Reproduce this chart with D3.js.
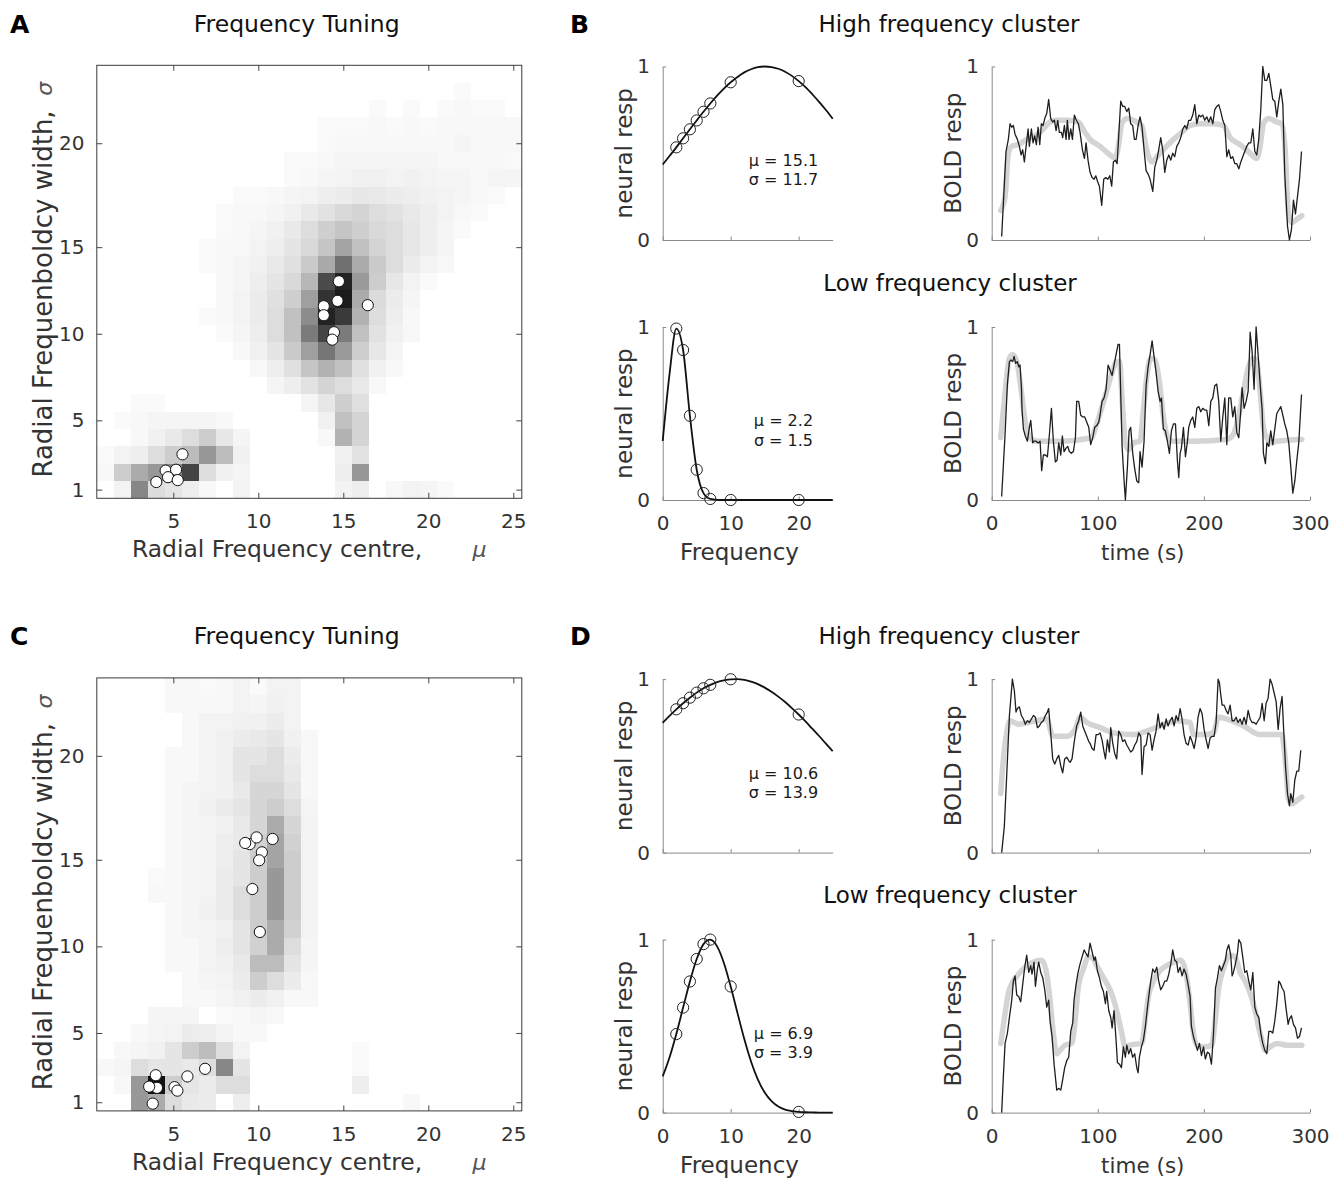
<!DOCTYPE html>
<html>
<head>
<meta charset="utf-8">
<script src="https://cdn.jsdelivr.net/npm/d3@7"></script>
<style>
  body { margin: 0; background: #fff; }
  svg { display: block; font-family: "DejaVu Sans", sans-serif; }
</style>
</head>
<body>
<svg id="fig" width="1341" height="1181"></svg>
<script>
//------------------------------------------------------------------------------
// Data
//------------------------------------------------------------------------------

// heat map axes (x in mu units, y in sigma-grid rows)
var heatXTicks = [5, 10, 15, 20, 25];
var heatYTickRows = [1, 5, 10, 15, 21];
var heatYTickLabels = ["1", "5", "10", "15", "20"];

// voxel density, rows listed from top (row 25) to bottom (row 1), columns mu = 1..25
var gridA = [
  [0,0,0,0,0,0,0,0,0,0,0,0,0,0,0,0,0,0,0,0,0,0,0,0,0],
  [0,0,0,0,0,0,0,0,0,0,0,0,0,0,0,0,0,0,0,0,0,2,0,0,0],
  [0,0,0,0,0,0,0,0,0,0,0,0,0,0,0,0,2,0,2,0,2,3,2,2,0],
  [0,0,0,0,0,0,0,0,0,0,0,0,0,2,2,2,3,2,3,2,3,3,3,3,3],
  [0,0,0,0,0,0,0,0,0,0,0,0,0,2,3,3,3,3,3,3,3,4,3,3,3],
  [0,0,0,0,0,0,0,0,0,0,0,2,2,3,4,4,4,4,4,4,3,3,3,3,2],
  [0,0,0,0,0,0,0,0,0,0,0,2,3,4,5,6,6,5,6,5,4,4,3,4,4],
  [0,0,0,0,0,0,0,0,2,2,3,4,5,7,8,10,9,8,7,6,5,4,3,2,0],
  [0,0,0,0,0,0,0,2,3,3,4,6,9,12,16,18,14,12,9,7,5,3,2,0,0],
  [0,0,0,0,0,0,0,2,3,4,6,9,14,20,24,20,16,14,10,7,4,2,0,0,0],
  [0,0,0,0,0,0,2,3,3,5,7,11,16,24,38,26,18,14,10,7,4,0,0,0,0],
  [0,0,0,0,0,0,2,3,4,6,9,13,22,36,60,35,22,14,8,5,3,0,0,0,0],
  [0,0,0,0,0,0,0,3,4,7,11,16,30,75,92,42,21,10,5,2,0,0,0,0,0],
  [0,0,0,0,0,0,0,3,5,8,13,20,40,85,95,35,15,8,4,0,0,0,0,0,0],
  [0,0,0,0,0,0,2,3,5,8,14,26,48,92,82,32,14,7,3,0,0,0,0,0,0],
  [0,0,0,0,0,0,0,2,4,7,14,26,55,78,55,26,12,6,3,0,0,0,0,0,0],
  [0,0,0,0,0,0,0,0,3,6,11,22,40,57,42,20,10,4,0,0,0,0,0,0,0],
  [0,0,0,0,0,0,0,0,0,3,7,13,24,32,26,13,6,3,0,0,0,0,0,0,0],
  [0,0,0,0,0,0,0,0,0,0,4,7,12,18,14,9,3,0,0,0,0,0,0,0,0],
  [0,0,2,2,0,0,0,0,0,0,0,0,4,10,20,13,0,0,0,0,0,0,0,0,0],
  [0,2,3,4,4,4,4,3,0,0,0,0,0,6,26,18,0,0,0,0,0,0,0,0,0],
  [0,0,3,6,9,14,21,10,4,0,0,0,0,3,32,18,0,0,0,0,0,0,0,0,0],
  [2,5,7,14,21,28,43,28,6,0,0,0,0,0,6,12,0,0,0,0,0,0,0,0,0],
  [3,21,35,43,50,78,14,6,4,0,0,0,0,0,7,43,0,0,0,0,0,0,0,0,0],
  [0,5,50,14,11,7,3,0,5,0,0,0,0,0,5,7,0,3,5,4,2,0,0,0,0]
];

var gridC = [
  [0,0,0,0,3,3,2,3,5,2,5,5,0,0,0,0,0,0,0,0,0,0,0,0,0],
  [0,0,0,0,3,3,3,3,5,4,6,5,0,0,0,0,0,0,0,0,0,0,0,0,0],
  [0,0,0,0,0,3,5,5,6,6,8,5,0,0,0,0,0,0,0,0,0,0,0,0,0],
  [0,0,0,0,0,3,5,6,8,9,11,6,3,0,0,0,0,0,0,0,0,0,0,0,0],
  [0,0,0,0,3,3,5,6,11,11,14,8,3,0,0,0,0,0,0,0,0,0,0,0,0],
  [0,0,0,0,3,3,5,6,11,14,14,9,3,0,0,0,0,0,0,0,0,0,0,0,0],
  [0,0,0,0,3,4,5,6,9,17,17,11,3,0,0,0,0,0,0,0,0,0,0,0,0],
  [0,0,0,0,3,4,6,8,11,17,21,14,4,0,0,0,0,0,0,0,0,0,0,0,0],
  [0,0,0,0,3,4,5,6,9,17,35,17,5,0,0,0,0,0,0,0,0,0,0,0,0],
  [0,0,0,0,3,4,5,7,9,19,38,19,5,0,0,0,0,0,0,0,0,0,0,0,0],
  [0,0,0,0,3,4,5,7,11,21,38,21,5,0,0,0,0,0,0,0,0,0,0,0,0],
  [0,0,0,2,3,4,5,8,11,21,43,21,5,0,0,0,0,0,0,0,0,0,0,0,0],
  [0,0,0,3,3,4,5,8,14,21,43,21,5,0,0,0,0,0,0,0,0,0,0,0,0],
  [0,0,0,0,3,4,6,8,14,21,43,21,5,0,0,0,0,0,0,0,0,0,0,0,0],
  [0,0,0,0,3,4,5,6,11,21,35,19,5,0,0,0,0,0,0,0,0,0,0,0,0],
  [0,0,0,0,3,3,5,7,11,19,35,14,4,0,0,0,0,0,0,0,0,0,0,0,0],
  [0,0,0,0,3,3,5,6,9,28,28,11,4,0,0,0,0,0,0,0,0,0,0,0,0],
  [0,0,0,0,0,3,4,5,8,21,14,8,3,0,0,0,0,0,0,0,0,0,0,0,0],
  [0,0,0,0,0,3,3,4,6,8,6,3,3,0,0,0,0,0,0,0,0,0,0,0,0],
  [0,0,0,4,4,4,0,2,3,4,3,0,0,0,0,0,0,0,0,0,0,0,0,0,0],
  [0,0,3,4,5,8,7,5,3,3,0,0,0,0,0,0,0,0,0,0,0,0,0,0,0],
  [0,3,4,6,11,21,28,14,5,0,0,0,0,0,0,2,0,0,0,0,0,0,0,0,0],
  [3,4,14,11,11,9,14,50,11,0,0,0,0,0,0,2,0,0,0,0,0,0,0,0,0],
  [0,3,43,99,21,11,8,14,14,0,0,0,0,0,0,7,0,0,0,0,0,0,0,0,0],
  [0,0,43,35,14,9,8,0,7,0,0,0,0,0,0,0,0,0,3,0,0,0,0,0,0]
];

// selected voxels [mu, sigma-row]
var voxelsA = [
  [14.74,13.03],[14.66,11.9],[13.85,11.59],[13.85,11.07],[16.44,11.65],[14.45,10.09],[14.35,9.66],
  [5.54,3.04],[4.55,2.1],[5.16,2.15],[4.0,1.44],[4.69,1.72],[5.26,1.55]
];
var voxelsC = [
  [9.49,15.9],[9.23,15.97],[9.9,16.29],[10.84,16.2],[10.21,15.43],[10.05,14.97],[9.65,13.31],[10.09,10.83],
  [6.87,2.93],[5.83,2.49],[3.97,2.56],[4.04,1.83],[3.58,1.9],[5.07,1.87],[5.24,1.67],[3.79,0.92]
];

// tuning curves
var freqTicks = [0, 10, 20];
var stimFreq = [2, 3, 4, 5, 6, 7, 10, 20];
var respB_high = [0.534, 0.586, 0.638, 0.689, 0.739, 0.787, 0.909, 0.916];
var respB_low = [0.991, 0.867, 0.487, 0.175, 0.040, 0.006, 0, 0];
var respD_high = [0.826, 0.861, 0.893, 0.922, 0.947, 0.967, 0.999, 0.796];
var respD_low = [0.454, 0.607, 0.758, 0.888, 0.974, 1.0, 0.729, 0.004];

var curveFreq = [0,1,2,3,4,5,6,7,8,9,10,11,12,13,14,15,16,17,18,19,20,21,22,23,24,25];
var curveB_high = [0.435,0.484,0.534,0.586,0.638,0.689,0.739,0.787,0.832,0.873,0.909,0.940,0.966,0.984,0.996,1.000,0.997,0.987,0.970,0.946,0.916,0.881,0.840,0.796,0.749,0.699];
var curveB_low = [0.341,0.726,0.991,0.867,0.487,0.175,0.040,0.006,0.001,0,0,0,0,0,0,0,0,0,0,0,0,0,0,0,0,0];
var curveD_high = [0.748,0.788,0.826,0.861,0.893,0.922,0.947,0.967,0.983,0.993,0.999,1.000,0.995,0.985,0.971,0.951,0.927,0.899,0.868,0.833,0.796,0.756,0.714,0.672,0.628,0.585];
var curveD_low = [0.209,0.318,0.454,0.607,0.758,0.888,0.974,1.000,0.961,0.865,0.729,0.575,0.425,0.294,0.191,0.116,0.066,0.035,0.017,0.008,0.004,0.002,0.001,0,0,0];

var fitMu = ["15.1", "2.2", "10.6", "6.9"];
var fitSigma = ["11.7", "1.5", "13.9", "3.9"];

// BOLD time courses [time (s), normalised response]
var timeTicks = [0, 100, 200, 300];

var boldB_high = [[9.4,.02],[13.5,.51],[15.7,.58],[17.3,.67],[18.9,.65],[20.4,.66],[22,.61],[24.2,.58],[26.1,.54],[27.7,.49],[29.2,.52],[30.8,.45],[33,.57],[34.3,.64],[35.5,.54],[37.4,.64],[39,.56],[40.5,.6],[42.1,.55],[43.7,.65],[45.3,.55],[46.8,.67],[48.4,.66],[50,.7],[51.9,.73],[53.7,.81],[55.6,.7],[57.5,.68],[59.1,.69],[60.7,.63],[62.2,.69],[63.8,.62],[65.7,.62],[66.9,.59],[68.5,.66],[70.1,.58],[71.3,.69],[72.9,.58],[74.5,.64],[76.1,.58],[77.9,.72],[79.8,.69],[81.7,.67],[83.3,.62],[85.5,.52],[87.4,.47],[88.9,.56],[90.8,.46],[92.7,.39],[94.6,.36],[96.5,.35],[98.1,.37],[99.6,.34],[101.5,.31],[103.7,.2],[105.6,.35],[107.5,.36],[109.4,.35],[111.3,.37],[113.1,.31],[114.7,.45],[116.6,.46],[118.2,.44],[121.6,.8],[123.5,.77],[125.4,.77],[127.3,.74],[129.2,.76],[131,.67],[132.9,.66],[134.5,.58],[136.1,.58],[138,.66],[139.8,.71],[141.7,.65],[143.6,.52],[145.5,.4],[147.4,.38],[149.3,.35],[151.8,.28],[153.7,.42],[155.6,.46],[157.4,.52],[159.3,.59],[161.2,.52],[163.1,.39],[165,.46],[166.9,.49],[168.8,.46],[170.6,.5],[172.5,.48],[174.4,.54],[176.3,.56],[178.2,.59],[180.1,.64],[182,.66],[183.8,.64],[185.7,.69],[187.6,.69],[189.5,.72],[191.4,.78],[193.3,.67],[195.2,.72],[197,.71],[198.9,.72],[200.8,.69],[202.7,.71],[204.6,.68],[206.5,.71],[208.4,.67],[210.2,.75],[212.1,.77],[214,.78],[215.9,.74],[217.8,.69],[219.7,.66],[221.6,.48],[223.4,.52],[225.3,.47],[227.2,.48],[229.1,.44],[231,.44],[232.9,.41],[234.8,.45],[236.6,.48],[238.5,.51],[240.4,.54],[242.3,.56],[244.2,.56],[246.1,.64],[248,.51],[249.8,.49],[251.7,.58],[253.6,.75],[255.5,1],[257.4,.92],[259.3,.92],[261.2,.96],[263,.89],[264.9,.81],[266.8,.8],[268.7,.71],[270.6,.8],[272.5,.87],[274.4,.78],[276.2,.38],[278.8,.08],[280.6,0],[282.5,.06],[284.4,.23],[286.3,.15],[288.2,.25],[290.1,.35],[292,.51]];
var modelB_high = [[8.5,.17],[12.6,.25],[15.7,.5],[18.9,.54],[25.1,.55],[33,.58],[40.9,.6],[48.7,.64],[55,.68],[61.3,.69],[70.7,.69],[81.7,.68],[88,.62],[92.7,.58],[102.1,.54],[111.6,.49],[116.3,.47],[119.4,.54],[122.6,.67],[127.3,.7],[136.7,.68],[141.4,.66],[146.1,.52],[150.8,.45],[155.6,.48],[161.8,.52],[171.3,.58],[179.1,.62],[187,.66],[196.4,.67],[209,.67],[218.4,.66],[224.7,.59],[234.1,.55],[243.6,.5],[249.8,.47],[253,.54],[256.1,.67],[260.8,.7],[268.7,.68],[273.4,.67],[276.6,.52],[279.7,.15],[282.8,.1],[287.6,.12],[292.3,.14]];

var boldB_low = [[9.4,.02],[12.6,.38],[14.8,.67],[16.7,.8],[18.2,.81],[19.8,.8],[21.1,.83],[22.6,.79],[24.2,.8],[25.5,.77],[26.7,.78],[28,.65],[28.6,.52],[29.9,.41],[31.7,.37],[33.6,.34],[35.5,.42],[36.8,.46],[38.7,.33],[39.9,.34],[41.8,.34],[43.7,.33],[45.6,.34],[47.1,.17],[48.7,.26],[50.6,.26],[52.5,.25],[54.4,.38],[56.3,.53],[58.1,.34],[60,.22],[61.6,.23],[63.2,.33],[65.1,.26],[66.6,.37],[68.2,.28],[70.1,.3],[71.7,.31],[73.2,.28],[75.1,.27],[77,.28],[78.9,.36],[80.1,.57],[82,.57],[83.9,.49],[85.8,.48],[87.7,.48],[89.6,.45],[91.5,.42],[93.3,.32],[95.2,.36],[97.1,.42],[99,.43],[100.9,.45],[102.1,.49],[104,.57],[105.9,.59],[107.8,.64],[109.7,.78],[111.6,.75],[113.5,.72],[115.3,.78],[117.2,.84],[119.1,.9],[120.4,.9],[122.9,.31],[124.8,.11],[126,0],[127.9,.19],[129.5,.4],[131,.42],[132.9,.27],[134.8,.18],[136.7,.11],[138.6,.1],[139.8,.28],[141.7,.19],[143.6,.34],[145.5,.66],[147.4,.77],[149.3,.84],[151.2,.92],[153,.83],[154.9,.74],[156.8,.63],[158.7,.57],[160,.59],[161.8,.41],[163.7,.4],[165.6,.34],[167.5,.27],[169.4,.4],[171.3,.44],[173.2,.44],[175,.23],[176.3,.13],[177.6,.27],[178.8,.3],[180.7,.42],[182.6,.25],[184.5,.34],[185.7,.42],[187.6,.46],[189.5,.48],[191.4,.42],[193.3,.53],[195.2,.54],[197,.51],[198.9,.53],[200.8,.52],[202.7,.52],[204.6,.43],[206.5,.57],[208.4,.59],[210.2,.66],[212.1,.67],[214,.57],[215.9,.34],[217.8,.48],[219.7,.59],[221.6,.32],[223.4,.59],[225.3,.59],[227.2,.48],[229.1,.54],[231,.39],[232.9,.36],[234.8,.52],[236,.65],[237.9,.53],[239.8,.57],[241.7,.63],[243.6,.97],[245.4,.86],[247.3,.64],[249.2,1],[251.1,.84],[253,.67],[254.9,.52],[256.1,.27],[258,.21],[259.3,.33],[261.2,.31],[263,.4],[264.9,.32],[266.8,.41],[268.7,.5],[270.6,.52],[272.5,.54],[274.4,.49],[276.2,.44],[278.1,.4],[280,.33],[281.9,.19],[283.8,.04],[285.7,.11],[287.6,.23],[289.4,.33],[292,.61]];
var modelB_low = [[8.5,.36],[11,.52],[14.1,.71],[16.7,.82],[19.8,.84],[23.6,.8],[28.3,.61],[31.4,.46],[36.1,.36],[42.4,.34],[64.4,.34],[94.3,.36],[97.4,.41],[102.1,.5],[108.4,.63],[113.1,.73],[117.8,.8],[120.4,.8],[123.5,.52],[126,.33],[128.9,.29],[133.6,.33],[139.8,.34],[143,.52],[146.1,.71],[149.9,.82],[154,.81],[158.7,.65],[161.8,.48],[165,.38],[169.7,.34],[190.1,.34],[221.6,.35],[227.8,.38],[232.6,.48],[237.3,.63],[242,.77],[246.7,.82],[249.8,.8],[253,.63],[256.1,.42],[259.3,.36],[264,.33],[268.7,.34],[292.3,.35]];

var boldD_high = [[9.4,0],[11.9,.15],[14.1,.44],[16.7,.79],[19.5,1],[21.4,.93],[22.9,.81],[24.2,.83],[26.1,.84],[28,.79],[29.9,.77],[31.7,.74],[33.6,.76],[35.5,.75],[37.4,.77],[39.3,.79],[41.2,.78],[43.1,.72],[44.9,.73],[46.8,.75],[48.7,.76],[50.6,.79],[52.5,.81],[53.7,.83],[55.6,.69],[57.5,.54],[59.4,.51],[61.3,.54],[63.2,.56],[65.1,.5],[66.9,.46],[68.8,.54],[70.7,.55],[72.6,.53],[73.9,.52],[75.7,.54],[77.6,.63],[80.1,.73],[82,.76],[83.9,.81],[85.8,.73],[87.7,.7],[89.6,.67],[91.5,.64],[92.7,.63],[94.6,.6],[96.5,.59],[98.4,.68],[100.3,.68],[102.1,.69],[104,.65],[105.9,.58],[107.2,.54],[109.1,.65],[110.9,.58],[112.2,.72],[114.1,.63],[116,.57],[117.8,.54],[119.7,.7],[121.6,.68],[123.5,.64],[125.4,.65],[127.3,.62],[129.2,.6],[131,.58],[132.9,.59],[134.8,.62],[136.7,.64],[138.6,.69],[140.5,.67],[141.7,.45],[143.6,.61],[145.5,.62],[147.4,.69],[149.3,.68],[151.2,.59],[153,.65],[154.9,.7],[156.8,.8],[158.7,.72],[160.6,.75],[162.5,.71],[164.4,.77],[166.2,.73],[168.1,.76],[170,.78],[171.9,.73],[173.8,.79],[175.7,.76],[177.6,.83],[179.4,.77],[181.3,.68],[183.2,.63],[185.1,.62],[187,.67],[188.9,.64],[190.8,.6],[192.6,.66],[194.5,.78],[196.4,.83],[198.3,.8],[200.2,.71],[202.1,.65],[204,.6],[205.8,.66],[207.7,.67],[209.6,.67],[211.5,.75],[213.4,1],[214.6,.98],[215.9,.91],[217.2,.85],[219,.85],[220.9,.82],[222.8,.8],[224.7,.85],[226.6,.76],[228.5,.76],[230.4,.78],[232.2,.75],[234.1,.77],[236,.74],[237.9,.78],[239.8,.74],[241.7,.82],[243.6,.77],[245.4,.75],[247.3,.75],[249.2,.74],[251.1,.76],[253,.78],[254.9,.86],[256.8,.76],[258.6,.86],[260.5,.89],[262.4,1],[264.3,.97],[266.2,.92],[268.1,.87],[270,.71],[271.8,.83],[273.7,.9],[275,.73],[276.9,.5],[278.8,.34],[280.6,.27],[281.9,.34],[283.8,.29],[285.7,.42],[287.6,.47],[289.4,.47],[291.3,.59]];
var modelD_high = [[8.5,.34],[11,.54],[14.1,.69],[17.3,.76],[25.1,.74],[42.4,.76],[51.9,.77],[54.4,.73],[56.6,.68],[59.7,.67],[70.7,.67],[78.6,.71],[83.3,.78],[89.6,.75],[102.1,.72],[114.7,.69],[133.6,.68],[146.1,.7],[158.7,.73],[174.4,.76],[187,.75],[190.1,.68],[199.6,.68],[209,.69],[213.7,.78],[221.6,.77],[237.3,.73],[253,.68],[273.4,.68],[276.6,.54],[279.7,.31],[282.8,.28],[287.6,.3],[292.3,.32]];

var boldD_low = [[9.4,0],[11,.21],[12.6,.4],[14.8,.46],[16.7,.55],[18.9,.65],[20.4,.76],[22,.79],[23.6,.68],[25.5,.67],[27.3,.64],[29.2,.74],[31.1,.84],[33,.91],[34.9,.81],[36.8,.85],[38,.8],[39.9,.87],[41.2,.73],[43.1,.83],[44.3,.87],[46.2,.81],[48.1,.78],[50,.71],[51.9,.61],[53.7,.65],[55,.53],[56.9,.44],[58.8,.28],[61.3,.13],[63.2,.14],[65.1,.13],[66.9,.19],[68.8,.26],[70.7,.3],[72.6,.32],[74.5,.47],[76.4,.52],[77.6,.65],[79.5,.74],[81.4,.81],[83.3,.86],[85.2,.9],[87.1,.94],[88.9,.92],[90.8,.9],[92.7,.98],[94.6,.93],[96.5,.88],[97.7,.9],[99.6,.82],[101.5,.78],[103.4,.73],[105.3,.7],[107.2,.63],[108.4,.7],[110.3,.59],[112.2,.55],[113.5,.49],[115.3,.59],[117.2,.42],[118.5,.29],[120.4,.28],[122.3,.26],[124.1,.38],[126,.32],[127.3,.39],[129.2,.34],[131,.37],[132.9,.32],[134.8,.34],[136.7,.26],[138,.23],[139.2,.32],[141.1,.38],[143,.42],[144.9,.5],[146.1,.57],[148,.67],[149.9,.76],[151.8,.83],[153.7,.81],[155.6,.84],[157.4,.76],[159.3,.71],[161.2,.73],[163.1,.76],[165,.76],[166.9,.8],[168.8,.86],[170.6,.94],[172.5,.88],[174.4,.87],[175.7,.81],[177.6,.84],[179.4,.79],[181.3,.83],[183.2,.8],[185.1,.74],[187,.67],[188.2,.5],[190.1,.44],[192,.4],[193.9,.36],[195.8,.4],[197.7,.33],[199.6,.38],[201.4,.31],[203.3,.35],[205.2,.34],[207.1,.28],[209,.45],[210.9,.72],[212.8,.78],[214.6,.85],[216.5,.82],[218.4,.85],[220.3,.88],[221.6,.94],[223.4,.97],[225.3,.91],[226.6,.79],[227.8,.81],[229.7,.86],[231.6,.92],[232.9,1],[234.8,.98],[236.6,.9],[238.5,.81],[240.4,.82],[242.3,.76],[244.2,.71],[246.1,.81],[248,.61],[249.8,.57],[251.7,.55],[253.6,.46],[255.5,.4],[257.4,.36],[259.3,.34],[261.2,.47],[263,.47],[264.9,.46],[266.8,.53],[268.7,.63],[270.6,.76],[271.8,.75],[273.7,.72],[275.6,.7],[277.5,.6],[279.4,.51],[280.6,.54],[282.5,.56],[284.4,.51],[286.3,.49],[288.2,.43],[290.1,.44],[292,.49]];
var modelD_low = [[8.5,.4],[11.6,.53],[15.7,.69],[20.4,.76],[26.7,.81],[33,.85],[39.3,.87],[47.1,.88],[51.9,.8],[55,.65],[58.1,.46],[61.3,.34],[64.4,.36],[69.1,.39],[75.4,.4],[78.6,.53],[81.7,.73],[86.4,.83],[91.1,.9],[94.3,.9],[99,.85],[105.3,.78],[111.6,.71],[117.8,.59],[122.6,.46],[125.7,.38],[130.4,.39],[141.4,.4],[144.6,.53],[147.7,.67],[152.4,.76],[158.7,.82],[165,.85],[171.3,.87],[177.6,.88],[180.7,.86],[183.8,.78],[187,.63],[190.1,.46],[193.3,.39],[199.6,.38],[207.4,.39],[210.6,.53],[213.7,.71],[218.4,.83],[224.7,.91],[229.4,.9],[234.1,.81],[238.8,.76],[243.6,.69],[248.3,.59],[251.4,.5],[254.6,.42],[257.7,.36],[262.4,.38],[268.7,.4],[278.1,.39],[292.3,.39]];


//------------------------------------------------------------------------------
// Layout
//------------------------------------------------------------------------------

var svg = d3.select("#fig");
var FONT = '"DejaVu Sans", sans-serif';
var LOWER = 612.6;           // vertical offset of the C / D row

var heatColor = d3.scaleLinear().domain([0, 100]).range(["#ffffff", "#0f0f0f"]).clamp(true);

function addText(g, x, y, str, opts) {
  opts = opts || {};
  var t = g.append("text")
    .attr("x", x).attr("y", y)
    .attr("font-family", FONT)
    .attr("font-size", opts.size || 23)
    .attr("fill", opts.fill || "#262626")
    .attr("text-anchor", opts.anchor || "middle")
    .text(str);
  if (opts.bold) t.attr("font-weight", "bold");
  if (opts.italic) t.attr("font-style", "italic");
  if (opts.rotate) t.attr("transform", "rotate(-90," + x + "," + y + ")");
  return t;
}

function styleTicks(sel, color) {
  sel.selectAll(".tick line").attr("stroke", color);
  sel.selectAll(".tick text")
    .attr("font-family", FONT)
    .attr("font-size", 20)
    .attr("fill", "#333");
}

//--------------------------------------
// Heat map panels (A, C)
//--------------------------------------

function heatPanel(grid, voxels, dy, letter) {
  var g = svg.append("g");
  var top = 65.3 + dy, bottom = 498.3 + dy;
  var x = d3.scaleLinear().domain([0.5, 25.5]).range([96.8, 521.8]);
  var y = d3.scaleLinear().domain([0.5, 25.5]).range([bottom, top]);

  var cells = [];
  grid.forEach(function(row, i) {
    row.forEach(function(v, j) {
      if (v > 0) cells.push({row: 25 - i, col: j + 1, v: v});
    });
  });

  g.append("g").selectAll("rect").data(cells).join("rect")
    .attr("x", function(d) { return x(d.col - 0.5); })
    .attr("y", function(d) { return y(d.row + 0.5); })
    .attr("width", x(1.5) - x(0.5))
    .attr("height", y(0.5) - y(1.5))
    .attr("fill", function(d) { return heatColor(d.v); })
    .attr("shape-rendering", "crispEdges");

  g.append("g").selectAll("circle").data(voxels).join("circle")
    .attr("cx", function(d) { return x(d[0]); })
    .attr("cy", function(d) { return y(d[1]); })
    .attr("r", 5.6)
    .attr("fill", "#fff")
    .attr("stroke", "#111")
    .attr("stroke-width", 1);

  var axB = g.append("g").attr("transform", "translate(0," + bottom + ")")
    .call(d3.axisBottom(x).tickValues(heatXTicks).tickSizeInner(-5.5).tickSizeOuter(0).tickPadding(15.8));
  var axT = g.append("g").attr("transform", "translate(0," + top + ")")
    .call(d3.axisTop(x).tickValues(heatXTicks).tickSizeInner(-5.5).tickSizeOuter(0).tickFormat(""));
  var axL = g.append("g").attr("transform", "translate(96.8,0)")
    .call(d3.axisLeft(y).tickValues(heatYTickRows).tickSizeInner(-5.5).tickSizeOuter(0).tickPadding(12.4)
      .tickFormat(function(d, i) { return heatYTickLabels[i]; }));
  var axR = g.append("g").attr("transform", "translate(521.8,0)")
    .call(d3.axisRight(y).tickValues(heatYTickRows).tickSizeInner(-5.5).tickSizeOuter(0).tickFormat(""));
  [axB, axT, axL, axR].forEach(function(a) { a.select(".domain").remove(); styleTicks(a, "#444"); });

  g.append("rect")
    .attr("x", 96.8).attr("y", top)
    .attr("width", 521.8 - 96.8).attr("height", bottom - top)
    .attr("fill", "none").attr("stroke", "#3a3a3a").attr("stroke-width", 1);

  addText(g, 10, 32.5 + dy, letter, {size: 25, bold: true, anchor: "start", fill: "#000"});
  addText(g, 296.7, 31.5 + dy, "Frequency Tuning", {size: 23.5, fill: "#111"});
  addText(g, 132, 557 + dy, "Radial Frequency centre,", {size: 23.4, anchor: "start", fill: "#333"});
  addText(g, 479.5, 557 + dy, "\u03bc", {size: 22, italic: true, fill: "#555"});
  addText(g, 51.7, 294 + dy, "Radial Frequenboldcy width,", {size: 26, rotate: true, fill: "#333"});
  addText(g, 51.7, 88.8 + dy, "\u03c3", {size: 22, rotate: true, italic: true, fill: "#555"});
}

//--------------------------------------
// Neural tuning plots
//--------------------------------------

function tuningPlot(top, bottom, curve, resp, mu, sigma, showX) {
  var g = svg.append("g");
  var x = d3.scaleLinear().domain([0, 25]).range([662.7, 832.7]);
  var y = d3.scaleLinear().domain([0, 1]).range([bottom, top]);

  var axX = g.append("g").attr("transform", "translate(0," + bottom + ")")
    .call(d3.axisBottom(x).tickValues(freqTicks).tickSizeInner(-3.5).tickSizeOuter(0).tickPadding(15.8)
      .tickFormat(showX ? d3.format("d") : ""));
  var axY = g.append("g").attr("transform", "translate(662.7,0)")
    .call(d3.axisLeft(y).tickValues([0, 1]).tickSizeInner(-3.5).tickSizeOuter(0).tickPadding(12.7)
      .tickFormat(d3.format("d")));
  [axX, axY].forEach(function(a) {
    a.select(".domain").attr("stroke", "#8a8a8a");
    styleTicks(a, "#8a8a8a");
  });

  var line = d3.line()
    .x(function(d, i) { return x(curveFreq[i]); })
    .y(function(d) { return y(d); })
    .curve(d3.curveMonotoneX);
  g.append("path").datum(curve)
    .attr("d", line).attr("fill", "none")
    .attr("stroke", "#111").attr("stroke-width", 1.8);

  g.append("g").selectAll("circle").data(resp).join("circle")
    .attr("cx", function(d, i) { return x(stimFreq[i]); })
    .attr("cy", function(d) { return y(d); })
    .attr("r", 5.6).attr("fill", "none")
    .attr("stroke", "#222").attr("stroke-width", 1);

  // fit parameters, one text block with two lines
  var t = g.append("text")
    .attr("text-anchor", "middle")
    .attr("font-family", FONT).attr("font-size", 16).attr("fill", "#1a1a1a");
  [["\u03bc", mu, 0.425], ["\u03c3", sigma, 0.315]].forEach(function(p) {
    t.append("tspan").attr("x", x(17.76)).attr("y", y(p[2]))
      .text(p[0] + " = " + p[1]);
  });

  addText(g, 632, (top + bottom) / 2, "neural resp", {size: 23, rotate: true, fill: "#333"});
  if (showX) addText(g, 739.5, bottom + 60, "Frequency", {size: 23, fill: "#333"});
}

//--------------------------------------
// BOLD time-course plots
//--------------------------------------

function boldPlot(top, bottom, bold, model, showX) {
  var g = svg.append("g");
  var x = d3.scaleLinear().domain([0, 300]).range([991.7, 1310]);
  var y = d3.scaleLinear().domain([0, 1]).range([bottom, top]);

  var axX = g.append("g").attr("transform", "translate(0," + bottom + ")")
    .call(d3.axisBottom(x).tickValues(timeTicks).tickSizeInner(-3.5).tickSizeOuter(0).tickPadding(15.8)
      .tickFormat(showX ? d3.format("d") : ""));
  var axY = g.append("g").attr("transform", "translate(991.7,0)")
    .call(d3.axisLeft(y).tickValues([0, 1]).tickSizeInner(-3.5).tickSizeOuter(0).tickPadding(12.7)
      .tickFormat(d3.format("d")));
  [axX, axY].forEach(function(a) {
    a.select(".domain").attr("stroke", "#8a8a8a");
    styleTicks(a, "#8a8a8a");
  });

  g.append("path").datum(model)
    .attr("d", d3.line().x(function(d) { return x(d[0]); }).y(function(d) { return y(d[1]); }).curve(d3.curveMonotoneX))
    .attr("fill", "none").attr("stroke", "#d4d4d4")
    .attr("stroke-width", 5.5).attr("stroke-linecap", "round").attr("stroke-linejoin", "round");

  g.append("path").datum(bold)
    .attr("d", d3.line().x(function(d) { return x(d[0]); }).y(function(d) { return y(d[1]); }))
    .attr("fill", "none").attr("stroke", "#1e1e1e")
    .attr("stroke-width", 1.3).attr("stroke-linejoin", "round");

  addText(g, 961, (top + bottom) / 2, "BOLD resp", {size: 23, rotate: true, fill: "#333"});
  if (showX) addText(g, 1142.8, bottom + 60, "time (s)", {size: 21.5, fill: "#333"});
}

function clusterPanel(dy, letter, curves, resps, bolds, models, fitIdx) {
  var g = svg.append("g");
  addText(g, 570, 32.5 + dy, letter, {size: 25, bold: true, anchor: "start", fill: "#000"});
  addText(g, 949, 31.5 + dy, "High frequency cluster", {size: 23, fill: "#111"});
  addText(g, 950, 290.5 + dy, "Low frequency cluster", {size: 23, fill: "#111"});

  tuningPlot(66.5 + dy, 240 + dy, curves[0], resps[0], fitMu[fitIdx], fitSigma[fitIdx], false);
  tuningPlot(327 + dy, 500 + dy, curves[1], resps[1], fitMu[fitIdx + 1], fitSigma[fitIdx + 1], true);
  boldPlot(66.5 + dy, 240 + dy, bolds[0], models[0], false);
  boldPlot(327 + dy, 500 + dy, bolds[1], models[1], true);
}

//------------------------------------------------------------------------------
// Draw
//------------------------------------------------------------------------------

heatPanel(gridA, voxelsA, 0, "A");
heatPanel(gridC, voxelsC, LOWER, "C");
clusterPanel(0, "B", [curveB_high, curveB_low], [respB_high, respB_low], [boldB_high, boldB_low], [modelB_high, modelB_low], 0);
clusterPanel(LOWER, "D", [curveD_high, curveD_low], [respD_high, respD_low], [boldD_high, boldD_low], [modelD_high, modelD_low], 2);
</script>
</body>
</html>
